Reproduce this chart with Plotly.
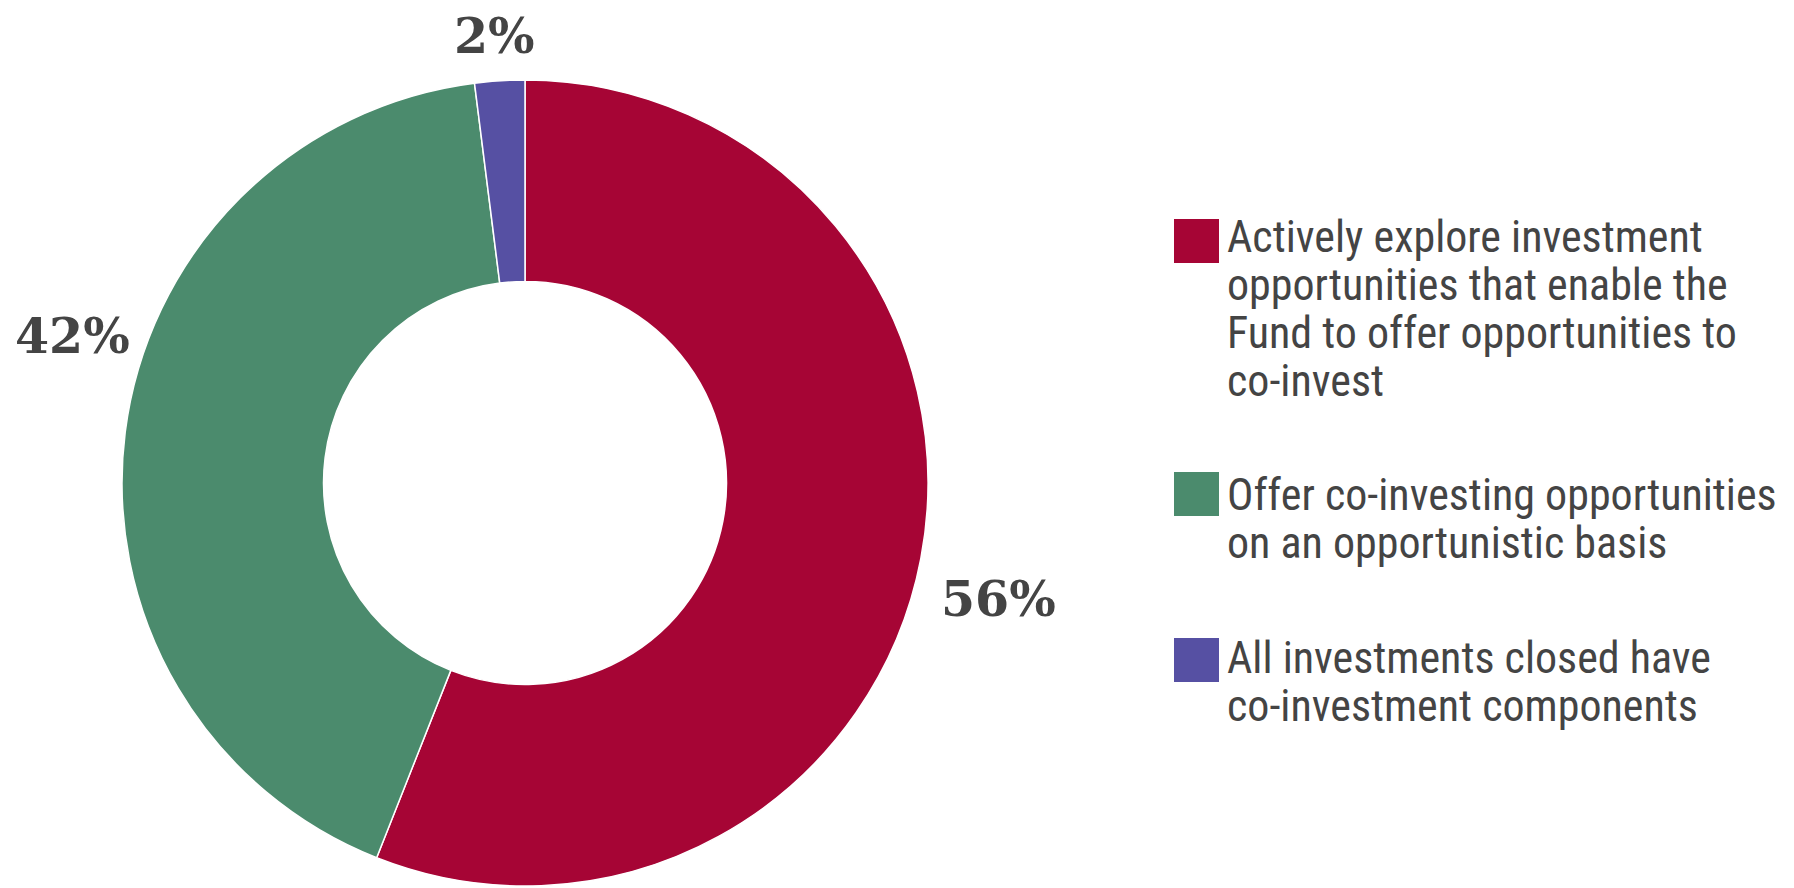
import plotly.graph_objects as go

# ---- data ----
categories = [
    "Actively explore investment opportunities that enable the Fund to offer opportunities to co-invest",
    "Offer co-investing opportunities on an opportunistic basis",
    "All investments closed have co-investment components",
]
legend_lines = [
    ["Actively explore investment", "opportunities that enable the", "Fund to offer opportunities to", "co-invest"],
    ["Offer co-investing opportunities", "on an opportunistic basis"],
    ["All investments closed have", "co-investment components"],
]
values = [56, 42, 2]
colors = ["#A60535", "#4B8B6D", "#5650A3"]

W, H = 1794, 888
TEXT_COLOR = "#444444"


def px_x(x):
    return x / W


def px_y(y):
    return 1 - y / H


fig = go.Figure()
fig.add_trace(go.Pie(
    labels=categories,
    values=values,
    hole=0.5,
    sort=False,
    direction="clockwise",
    rotation=0,
    marker=dict(colors=colors, line=dict(color="white", width=1.5)),
    textinfo="none",
    hoverinfo="label+percent",
    showlegend=False,
    domain=dict(x=[px_x(122), px_x(928)], y=[px_y(886), px_y(80)]),
))

annotations = []
shapes = []

# percentage labels (text derived from values)
label_pos = [(999, 599), (72, 336), (494, 36)]
for v, (lx, ly) in zip(values, label_pos):
    annotations.append(dict(
        x=px_x(lx), y=px_y(ly), xref="paper", yref="paper",
        text=f"{v}%", showarrow=False, xanchor="center", yanchor="middle",
        font=dict(family="DejaVu Serif, serif", size=49,
                  color=TEXT_COLOR, weight="bold"),
    ))

# custom legend
legend_square_tops = [219, 472, 638]
legend_first_baselines = [252, 510, 673]
LINE_STEP = 48
FS = 44
for lines, col, top, base in zip(legend_lines, colors, legend_square_tops, legend_first_baselines):
    shapes.append(dict(
        type="rect", xref="paper", yref="paper",
        x0=px_x(1174), x1=px_x(1219), y0=px_y(top + 44), y1=px_y(top),
        fillcolor=col, line=dict(width=0),
    ))
    for i, line in enumerate(lines):
        b = base + i * LINE_STEP
        annotations.append(dict(
            x=px_x(1226), y=px_y(b - 0.35 * FS), xref="paper", yref="paper",
            text=line, showarrow=False, xanchor="left", yanchor="middle",
            borderpad=0,
            font=dict(family="Liberation Sans Narrow, Arial Narrow, Roboto Condensed, DejaVu Sans Condensed, sans-serif",
                      size=FS, color=TEXT_COLOR),
        ))

fig.update_layout(
    width=W, height=H,
    margin=dict(l=0, r=0, t=0, b=0),
    paper_bgcolor="white", plot_bgcolor="white",
    annotations=annotations, shapes=shapes,
    showlegend=False,
)

fig.write_html(
    "out.html",
    config={"displayModeBar": False},
    post_script="document.body.style.margin='0';document.body.style.overflow='hidden';",
)
